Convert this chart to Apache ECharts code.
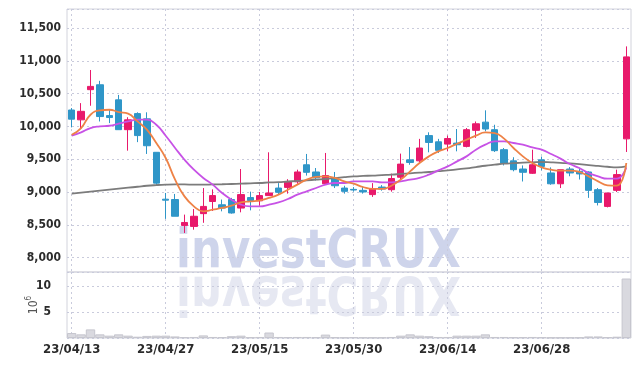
<!DOCTYPE html>
<html><head><meta charset="utf-8">
<script src="https://cdn.jsdelivr.net/npm/echarts@6/dist/echarts.min.js"></script>
<style>html,body{margin:0;padding:0;background:#fff}#c{width:639px;height:366px}</style>
</head><body><div id="c"></div>
<script>
const dates = ['23/04/13','23/04/14','23/04/17','23/04/18','23/04/19','23/04/20','23/04/21','23/04/24','23/04/25','23/04/26',
'23/04/27','23/04/28','23/05/02','23/05/03','23/05/04','23/05/08','23/05/09','23/05/10','23/05/11','23/05/12',
'23/05/15','23/05/16','23/05/17','23/05/18','23/05/19','23/05/22','23/05/23','23/05/24','23/05/25','23/05/26',
'23/05/30','23/05/31','23/06/01','23/06/02','23/06/05','23/06/07','23/06/08','23/06/09','23/06/12','23/06/13',
'23/06/14','23/06/15','23/06/16','23/06/19','23/06/20','23/06/21','23/06/22','23/06/23','23/06/26','23/06/27',
'23/06/28','23/06/29','23/06/30','23/07/03','23/07/04','23/07/05','23/07/06','23/07/07','23/07/10','23/07/11'];
const opens = [10250,10100,10560,10635,10165,10405,9950,10195,10115,9605,
8890,8885,8490,8475,8670,8855,8805,8885,8755,8915,
8865,8945,9060,9070,9155,9415,9305,9125,9200,9060,
9040,9025,8960,9075,9035,9225,9490,9475,9860,9765,
9730,9745,9695,9940,10065,9950,9645,9475,9350,9285,
9490,9290,9125,9350,9315,9305,9035,8780,9025,9810];
const closes = [10110,10230,10610,10150,10135,9950,10100,9860,9705,9135,
8875,8630,8535,8630,8780,8945,8755,8680,8960,8870,
8945,8985,8995,9155,9305,9300,9215,9250,9095,9010,
9030,9000,9045,9045,9205,9425,9450,9670,9755,9635,
9815,9720,9950,10040,9960,9630,9440,9340,9300,9415,
9390,9125,9340,9290,9275,9025,8840,8985,9265,11060];
const lows = [9985,9960,10315,10075,10050,9950,9630,9760,9580,9105,
8590,8630,8375,8425,8530,8710,8705,8670,8690,8720,
8790,8945,8960,8975,9125,9250,9175,9125,9060,8975,
9005,8975,8925,9020,9005,9190,9415,9440,9605,9595,
9620,9620,9680,9825,9925,9610,9405,9315,9160,9275,
9330,9110,9060,9240,9190,8910,8795,8765,9000,9610];
const highs = [10280,10355,10860,10695,10265,10480,10140,10215,10215,9605,
8985,8970,8655,8740,9060,9040,8885,8910,9350,9005,
9000,9605,9135,9195,9340,9580,9365,9595,9305,9095,
9075,9075,9135,9105,9280,9585,9685,9810,9910,9810,
9860,9960,9975,10075,10245,10025,9670,9530,9405,9645,
9540,9375,9340,9380,9350,9315,9060,8985,9340,11220];
const volumes = [0.95,0.7,1.65,0.7,0.45,0.7,0.45,0.25,0.4,0.45,
0.45,0.3,0.15,0.2,0.5,0.2,0.15,0.35,0.45,0.15,
0.2,1.05,0.2,0.15,0.2,0.2,0.15,0.65,0.15,0.1,
0.15,0.1,0.1,0.1,0.2,0.45,0.7,0.45,0.35,0.2,
0.2,0.45,0.45,0.45,0.7,0.2,0.2,0.15,0.15,0.2,
0.15,0.1,0.1,0.1,0.1,0.3,0.3,0.15,0.25,11.4];
const ma5 = [9873,9975,10178,10244,10254,10219,10194,10076,9950,9747,
9518,9188,8933,8781,8705,8730,8756,8791,8842,8857,
8872,8909,8959,9035,9112,9188,9229,9238,9214,9162,
9127,9076,9046,9046,9096,9188,9314,9442,9543,9619,
9671,9736,9797,9858,9909,9899,9813,9671,9543,9442,
9375,9340,9325,9325,9305,9238,9162,9101,9096,9442];
const ma10 = [9858,9909,9975,10000,10010,10041,10076,10102,10102,10025,
9858,9671,9492,9340,9214,9112,8985,8883,8807,8781,
8781,8807,8842,8893,8959,9010,9061,9112,9137,9137,
9162,9162,9162,9147,9147,9162,9188,9214,9264,9330,
9391,9467,9543,9645,9721,9771,9771,9747,9721,9680,
9645,9579,9508,9427,9366,9290,9238,9203,9203,9375];
const maLong = [8974,8990,9005,9020,9035,9050,9065,9080,9095,9105,
9112,9115,9115,9112,9112,9115,9118,9122,9127,9132,
9137,9145,9150,9160,9168,9178,9188,9198,9210,9225,
9238,9245,9250,9258,9265,9275,9285,9295,9305,9318,
9330,9345,9360,9380,9400,9416,9432,9440,9447,9452,
9457,9452,9445,9435,9425,9410,9398,9385,9375,9391];
const watermark = 'investCRUX';
const volumeUnit = '{a|10}{b|6}';

const chart = echarts.init(document.getElementById('c'), null, {renderer: 'canvas'});
const candleData = dates.map((d, i) => [opens[i], closes[i], lows[i], highs[i]]);
const UP = '#e8196b', DOWN = '#2f96c8';
const gridLine = {show: true, lineStyle: {color: '#c9cbdc', type: [2, 3], width: 1}};
const labelFont = '"DejaVu Sans Condensed", "DejaVu Sans", sans-serif';
const option = {
  animation: false,
  backgroundColor: '#fff',
  grid: [
    {left: 67, right: 8, top: 9, height: 263, show: true, borderColor: '#d2d3dc', borderWidth: 1},
    {left: 67, right: 8, top: 272, height: 66, show: true, borderColor: '#d2d3dc', borderWidth: 1}
  ],
  xAxis: [
    {type: 'category', gridIndex: 0, data: dates, boundaryGap: true,
     axisLine: {show: false}, axisTick: {show: false}, axisLabel: {show: false},
     splitLine: Object.assign({interval: 9, alignWithLabel: true}, gridLine)},
    {type: 'category', gridIndex: 1, data: dates, boundaryGap: true,
     axisLine: {show: false}, axisTick: {show: false},
     axisLabel: {interval: 9, margin: 5, fontFamily: labelFont, fontWeight: 'bold', fontSize: 13, color: '#2b2b2b'},
     splitLine: Object.assign({interval: 9, alignWithLabel: true}, gridLine)}
  ],
  yAxis: [
    {type: 'value', gridIndex: 0, min: 7780, max: 11790, splitNumber: 8, scale: true,
     axisLine: {show: false}, axisTick: {show: false},
     axisLabel: {showMinLabel: false, showMaxLabel: false, margin: 6, fontFamily: labelFont, fontWeight: 'bold', fontSize: 12, color: '#2b2b2b',
       formatter: v => v.toLocaleString('en-US')},
     splitLine: gridLine},
    {type: 'value', gridIndex: 1, min: 0, max: 12.65, interval: 5,
     name: volumeUnit, nameLocation: 'middle', nameRotate: 90, nameGap: 27, nameMoveOverlap: false,
     nameTextStyle: {rich: {
       a: {fontFamily: '"DejaVu Sans Condensed", sans-serif', fontSize: 12, color: '#555', verticalAlign: 'bottom', lineHeight: 15},
       b: {fontFamily: '"DejaVu Sans Condensed", sans-serif', fontSize: 8, color: '#555', verticalAlign: 'top', lineHeight: 15}
     }},
     axisLine: {show: false}, axisTick: {show: false},
     axisLabel: {showMinLabel: false, showMaxLabel: false, margin: 16, fontFamily: labelFont, fontWeight: 'bold', fontSize: 12, color: '#2b2b2b'},
     splitLine: gridLine}
  ],
  graphic: [
    {type: 'text', x: 176, y: 272, scaleX: 0.806, z: -10, silent: true,
     style: {text: watermark, x: 0, y: -18.7, font: 'bold 54px "DejaVu Sans"', fill: 'rgba(190,197,228,0.75)', verticalAlign: 'middle', align: 'left'}},
    {type: 'text', x: 176, y: 272, scaleX: 0.806, scaleY: -1, z: -10, silent: true,
     style: {text: watermark, x: 0, y: -18.7, font: 'bold 54px "DejaVu Sans"', fill: 'rgba(205,209,230,0.5)', verticalAlign: 'middle', align: 'left'}}
  ],
  series: [
    {type: 'candlestick', xAxisIndex: 0, yAxisIndex: 0, data: candleData, barWidth: 7, z: 2,
     itemStyle: {color: UP, color0: DOWN, borderColor: UP, borderColor0: DOWN, borderWidth: 1}},
    {type: 'line', xAxisIndex: 0, yAxisIndex: 0, data: maLong, smooth: true, symbol: 'none', z: 3,
     lineStyle: {color: '#7c7c7c', width: 1.8}},
    {type: 'line', xAxisIndex: 0, yAxisIndex: 0, data: ma10, smooth: true, symbol: 'none', z: 3,
     lineStyle: {color: '#c752e6', width: 1.8}},
    {type: 'line', xAxisIndex: 0, yAxisIndex: 0, data: ma5, smooth: true, symbol: 'none', z: 4,
     lineStyle: {color: '#ee8246', width: 1.8}},
    {type: 'bar', xAxisIndex: 1, yAxisIndex: 1, data: volumes, barWidth: '100%', z: 2,
     itemStyle: {color: '#d9d9df', borderColor: '#c6c6ce', borderWidth: 1}}
  ]
};
chart.setOption(option);
</script>
</body></html>
